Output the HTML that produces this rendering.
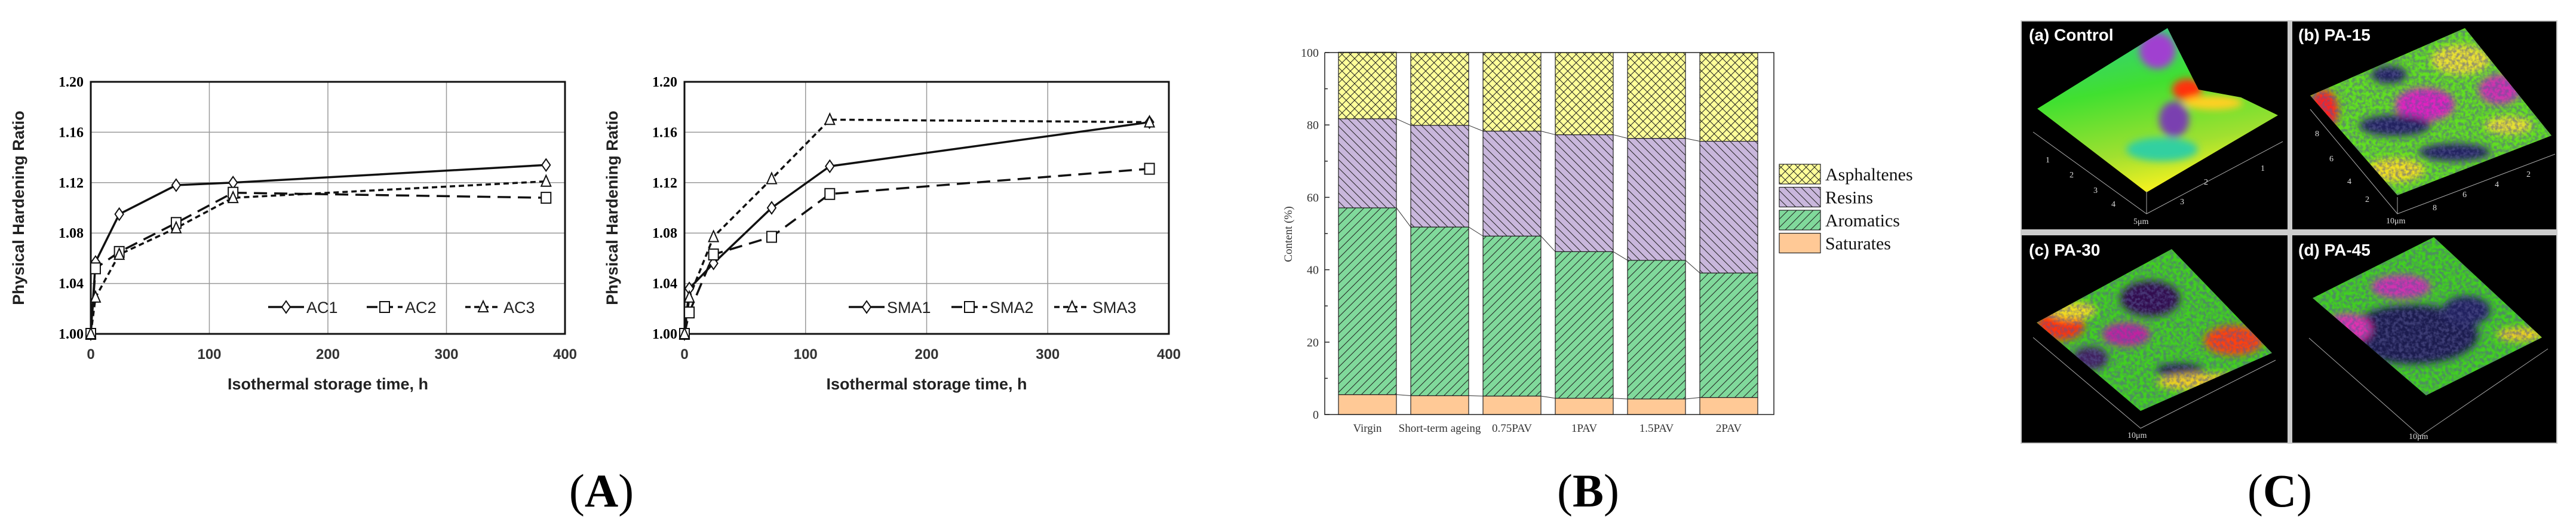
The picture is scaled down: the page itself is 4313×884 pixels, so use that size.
<!DOCTYPE html>
<html><head><meta charset="utf-8"><style>
html,body{margin:0;padding:0;background:#fff;}
svg{display:block;}
</style></head><body>
<svg id="fig" width="4313" height="884" viewBox="0 0 4313 884" xmlns="http://www.w3.org/2000/svg">
<defs>
<pattern id="pAsph" patternUnits="userSpaceOnUse" width="14" height="14"><rect width="14" height="14" fill="#FFFF99"/><path d="M0,0L14,14M14,0L0,14" stroke="#222" stroke-width="1"/></pattern>
<pattern id="pRes" patternUnits="userSpaceOnUse" width="14" height="14"><rect width="14" height="14" fill="#C9B7DC"/><path d="M0,0L14,14M-7,7L7,21M7,-7L21,7" stroke="#222" stroke-width="1"/></pattern>
<pattern id="pAro" patternUnits="userSpaceOnUse" width="14" height="14"><rect width="14" height="14" fill="#80D99B"/><path d="M0,14L14,0M-7,7L7,-7M7,21L21,7" stroke="#222" stroke-width="1"/></pattern>
<clipPath id="ca"><polygon points="3411,182 3629,47 3681,150 3752,163 3814,193 3594,322"/></clipPath>
<clipPath id="cb"><polygon points="3868,160 4127,47 4272,227 4014,327"/></clipPath>
<clipPath id="cc"><polygon points="3410,540 3636,417 3804,591 3584,688"/></clipPath>
<clipPath id="cd"><polygon points="3872,499 4075,397 4256,565 4062,662"/></clipPath>
<linearGradient id="gA" x1="0" y1="0" x2="0.3" y2="1"><stop offset="0" stop-color="#30c8a0"/><stop offset="0.45" stop-color="#40e030"/><stop offset="0.8" stop-color="#a0e030"/><stop offset="1" stop-color="#f0f020"/></linearGradient>
<filter id="blur"><feGaussianBlur stdDeviation="6"/></filter>
<filter id="speck" x="0" y="0" width="1" height="1"><feTurbulence type="fractalNoise" baseFrequency="0.18" numOctaves="2" seed="3"/><feColorMatrix type="matrix" values="0 0 0 0 0.1  0 0 0 0 0.1  0 0 0 0 0.3  0 0 0 -3 1.9"/></filter>
</defs>
<g id="chartA1"></g>
<g id="chartA2"></g>
<g id="chartB"></g>
<g id="panelC">
 <rect x="3383" y="34" width="899" height="709" fill="#ccc"/>
 <rect x="3385" y="36" width="445" height="348" fill="#000"/>
 <rect x="3838" y="36" width="442" height="348" fill="#000"/>
 <rect x="3385" y="394" width="445" height="347" fill="#000"/>
 <rect x="3838" y="394" width="442" height="347" fill="#000"/>
 <g clip-path="url(#ca)"><rect x="3380" y="40" width="450" height="290" fill="url(#gA)"/>
  <g filter="url(#blur)"><ellipse cx="3612" cy="85" rx="30" ry="30" fill="#a040d0"/><ellipse cx="3662" cy="150" rx="25" ry="18" fill="#ff3010"/><ellipse cx="3705" cy="172" rx="50" ry="12" fill="#ffd020"/><ellipse cx="3640" cy="200" rx="25" ry="30" fill="#7a40b0"/><ellipse cx="3620" cy="250" rx="60" ry="20" fill="#30d0a0"/></g></g>
 <g clip-path="url(#cb)"><rect x="3860" y="40" width="420" height="290" fill="#60e020"/>
  <g filter="url(#blur)"><ellipse cx="3890" cy="185" rx="25" ry="35" fill="#ff2020"/><ellipse cx="4060" cy="175" rx="50" ry="28" fill="#e020c0"/><ellipse cx="4010" cy="210" rx="60" ry="18" fill="#202060"/><ellipse cx="4185" cy="150" rx="35" ry="25" fill="#d030b0"/><ellipse cx="4120" cy="100" rx="50" ry="25" fill="#e8e030"/><ellipse cx="4010" cy="285" rx="50" ry="20" fill="#f0e020"/><ellipse cx="4110" cy="255" rx="60" ry="15" fill="#202060"/><ellipse cx="4000" cy="125" rx="30" ry="15" fill="#202060"/><ellipse cx="4200" cy="210" rx="40" ry="15" fill="#e8e030"/></g>
  <rect x="3860" y="40" width="420" height="290" filter="url(#speck)" opacity="0.55"/></g>
 <g clip-path="url(#cc)"><rect x="3400" y="410" width="420" height="290" fill="#40d020"/>
  <g filter="url(#blur)"><ellipse cx="3450" cy="545" rx="40" ry="25" fill="#ff3010"/><ellipse cx="3740" cy="570" rx="50" ry="25" fill="#ff4010"/><ellipse cx="3600" cy="500" rx="50" ry="30" fill="#301050"/><ellipse cx="3560" cy="560" rx="40" ry="20" fill="#c020a0"/><ellipse cx="3650" cy="620" rx="40" ry="12" fill="#202050"/><ellipse cx="3700" cy="640" rx="90" ry="15" fill="#f0d020"/><ellipse cx="3500" cy="600" rx="30" ry="20" fill="#402060"/><ellipse cx="3470" cy="520" rx="40" ry="15" fill="#f0e020"/></g>
  <rect x="3400" y="410" width="420" height="290" filter="url(#speck)" opacity="0.55"/></g>
 <g clip-path="url(#cd)"><rect x="3860" y="390" width="410" height="280" fill="#40d020"/>
  <g filter="url(#blur)"><ellipse cx="4040" cy="560" rx="110" ry="50" fill="#1a1a50"/><ellipse cx="4020" cy="480" rx="50" ry="20" fill="#d030b0"/><ellipse cx="3930" cy="550" rx="40" ry="25" fill="#e030b0"/><ellipse cx="4130" cy="520" rx="40" ry="25" fill="#202060"/><ellipse cx="4220" cy="560" rx="40" ry="12" fill="#f0d020"/></g>
  <rect x="3860" y="390" width="410" height="280" filter="url(#speck)" opacity="0.55"/></g>
 <g fill="#fff" font-family="Liberation Sans, sans-serif" font-weight="bold" font-size="28">
  <text x="3397" y="68">(a) Control</text>
  <text x="3848" y="68">(b) PA-15</text>
  <text x="3397" y="428">(c) PA-30</text>
  <text x="3848" y="428">(d) PA-45</text>
 </g>
 <g stroke="#aaa" stroke-width="1" fill="none">
  <path d="M3404,221L3594,358L3822,237M3594,358V320"/>
  <path d="M3868,183L4014,358L4278,258M4014,358V330"/>
  <path d="M3404,565L3584,717L3810,603"/>
  <path d="M3866,566L4052,730L4266,584"/>
 </g>
 <g fill="#ddd" font-family="Liberation Serif, serif" font-size="14">
  <text x="3572" y="375">5μm</text><text x="3995" y="374">10μm</text><text x="3562" y="733">10μm</text><text x="4033" y="735">10μm</text>
  <text x="3425" y="272">1</text><text x="3465" y="297">2</text><text x="3505" y="323">3</text><text x="3535" y="346">4</text>
  <text x="3650" y="342">3</text><text x="3690" y="309">2</text><text x="3785" y="286">1</text>
  <text x="3876" y="228">8</text><text x="3900" y="270">6</text><text x="3930" y="308">4</text><text x="3960" y="338">2</text>
  <text x="4073" y="352">8</text><text x="4123" y="330">6</text><text x="4177" y="313">4</text><text x="4230" y="296">2</text>
 </g>
</g>
<g font-family="Liberation Serif, serif" font-size="78" fill="#000" text-anchor="middle">
 <text x="1007" y="848">(<tspan font-weight="bold">A</tspan>)</text>
 <text x="2659" y="848">(<tspan font-weight="bold">B</tspan>)</text>
 <text x="3817" y="848">(<tspan font-weight="bold">C</tspan>)</text>
</g>
</svg>
<script>
const NS="http://www.w3.org/2000/svg";
// ---- Panel A data ----
const timesA=[0,4,24,72,120,384];
const ac1=[1.000,1.057,1.095,1.118,1.120,1.134];
const ac2=[1.000,1.052,1.065,1.088,1.112,1.108];
const ac3=[1.000,1.029,1.063,1.084,1.108,1.121];
const sma1=[1.000,1.036,1.056,1.100,1.133,1.168];
const sma2=[1.000,1.017,1.063,1.077,1.111,1.131];
const sma3=[1.000,1.029,1.077,1.123,1.170,1.168];
const yTicksA=[1.00,1.04,1.08,1.12,1.16,1.20];
const xTicksA=[0,100,200,300,400];
const namesAC=["AC1","AC2","AC3"];
const namesSMA=["SMA1","SMA2","SMA3"];
// ---- Panel B data ----
const catsB=["Virgin","Short-term ageing","0.75PAV","1PAV","1.5PAV","2PAV"];
const saturates=[5.5,5.2,5.1,4.5,4.3,4.7];
const aromatics=[51.6,46.6,44.2,40.5,38.3,34.4];
const resins=[24.6,28.1,29.0,32.3,33.7,36.4];
const asphaltenes=[18.4,20.1,21.7,22.7,23.7,24.4];
const yTicksB=[0,20,40,60,80,100];

function mk(tag,attrs,parent){const e=document.createElementNS(NS,tag);for(const k in attrs)e.setAttribute(k,attrs[k]);if(parent)parent.appendChild(e);return e;}

function lineChart(gid,L,R,series,names,legX){
  const g=document.getElementById(gid);
  const T=137,B=559;
  const xs=v=>L+(v-0)/400*(R-L);
  const ys=v=>B-(v-1.0)/0.2*(B-T);
  yTicksA.forEach(t=>{const l=mk('line',{x1:L,x2:R,y1:ys(t),y2:ys(t),stroke:'#999','stroke-width':1.5},g);
    
    const tx=mk('text',{x:L-12,y:ys(t)+8,'text-anchor':'end','font-family':'Liberation Serif, serif','font-weight':'bold','font-size':24},g);
    tx.textContent=t.toFixed(2);});
  xTicksA.forEach(t=>{const l=mk('line',{x1:xs(t),x2:xs(t),y1:T,y2:B,stroke:'#999','stroke-width':1.5},g);
    
    const tx=mk('text',{x:xs(t),y:601,'text-anchor':'middle','font-family':'Liberation Sans, sans-serif','font-weight':'bold','font-size':24,fill:'#333'},g);
    tx.textContent=t;});
  const fr=mk('rect',{x:L,y:T,width:R-L,height:B-T,fill:'none',stroke:'#111','stroke-width':3},g);
  
  const xt=mk('text',{x:(L+R)/2,y:652,'text-anchor':'middle','font-family':'Liberation Sans, sans-serif','font-weight':'bold','font-size':27,fill:'#222'},g);
  xt.textContent='Isothermal storage time, h';
  const yx=L-112, yy=(T+B)/2;
  const yt=mk('text',{x:yx,y:yy,'text-anchor':'middle','font-family':'Liberation Sans, sans-serif','font-weight':'bold','font-size':27,fill:'#222',transform:`rotate(-90 ${yx} ${yy})`},g);
  yt.textContent='Physical Hardening Ratio';
  const dashes=['none','22,12','9,6'];
  function marker(k,x,y,p){
    let m;
    if(k===0) m=mk('polygon',{points:`${x},${y-10} ${x+7},${y} ${x},${y+10} ${x-7},${y}`,fill:'#fff',stroke:'#111','stroke-width':2},p);
    else if(k===1) m=mk('rect',{x:x-8,y:y-9,width:16,height:18,fill:'#fff',stroke:'#111','stroke-width':2},p);
    else m=mk('polygon',{points:`${x},${y-10} ${x+8},${y+8} ${x-8},${y+8}`,fill:'#fff',stroke:'#111','stroke-width':2},p);
    return m;
  }
  series.forEach((s,k)=>{
    const pts=timesA.map((t,i)=>xs(t)+','+ys(s[i])).join(' ');
    const pl=mk('polyline',{points:pts,fill:'none',stroke:'#111','stroke-width':3.5,'stroke-dasharray':dashes[k]},g);
    
  });
  series.forEach((s,k)=>{timesA.forEach((t,i)=>{const m=marker(k,xs(t),ys(s[i]),g);
    });});
  const ly=514; let lx=legX;
  names.forEach((n,k)=>{
    const lg=mk('g',{},g);
    mk('line',{x1:lx,x2:lx+60,y1:ly,y2:ly,stroke:'#111','stroke-width':3.5,'stroke-dasharray':dashes[k]==='none'?'none':(k===1?'18,8':'9,6')},lg);
    marker(k,lx+30,ly,lg);
    const tx=mk('text',{x:lx+64,y:ly+10,'font-family':'Liberation Sans, sans-serif','font-size':27,fill:'#222'},lg);tx.textContent=n;
    lx+= (n.length>3?172:165);
  });
}
lineChart('chartA1',152,946,[ac1,ac2,ac3],namesAC,449);
lineChart('chartA2',1146,1957,[sma1,sma2,sma3],namesSMA,1421);

(function(){
  const g=document.getElementById('chartB');
  const L=2218,R=2970,T=88,B=694;
  const ys=v=>B-v/100*(B-T);
  const x0=2241,step=121,bw=97;
  const layers=[[saturates,'#FFC996','saturates'],[aromatics,'url(#pAro)','aromatics'],[resins,'url(#pRes)','resins'],[asphaltenes,'url(#pAsph)','asphaltenes']];
  const tops=catsB.map(()=>0);
  const tops2=[];
  layers.forEach(([arr,fill,name])=>{
    const row=[];
    catsB.forEach((c,i)=>{const y0=tops[i],y1=y0+arr[i];
      const r=mk('rect',{x:x0+i*step,y:ys(y1),width:bw,height:ys(y0)-ys(y1),fill:fill,stroke:'#222','stroke-width':1.2},g);
      
      tops[i]=y1;row.push(y1);});
    tops2.push(row);
  });
  tops2.slice(0,3).forEach(row=>{for(let i=0;i<row.length-1;i++){
    const l=mk('line',{x1:x0+i*step+bw,y1:ys(row[i]),x2:x0+(i+1)*step,y2:ys(row[i+1]),stroke:'#333','stroke-width':1},g);
    }});
  const ax=mk('path',{d:`M${L},${T}V${B}H${R}V${T}H${L}`,fill:'none',stroke:'#222','stroke-width':1.5},g);
  
  for(let v=0;v<=100;v+=10){mk('line',{x1:L,x2:L+(v%20===0?8:5),y1:ys(v),y2:ys(v),stroke:'#222','stroke-width':1.5},g);}
  yTicksB.forEach(v=>{const t=mk('text',{x:L-10,y:ys(v)+7,'text-anchor':'end','font-family':'Liberation Serif, serif','font-size':20,fill:'#333'},g);
    t.textContent=v;});
  catsB.forEach((c,i)=>{const t=mk('text',{x:x0+i*step+bw/2,y:723,'text-anchor':'middle','font-family':'Liberation Serif, serif','font-size':19,fill:'#333'},g);
    t.textContent=c;});
  const yt=mk('text',{x:2163,y:392,'text-anchor':'middle','font-family':'Liberation Serif, serif','font-size':19,fill:'#333',transform:'rotate(-90 2163 392)'},g);
  yt.textContent='Content (%)';
  const leg=[['Asphaltenes','url(#pAsph)'],['Resins','url(#pRes)'],['Aromatics','url(#pAro)'],['Saturates','#FFC996']];
  leg.forEach(([n,f],k)=>{const y=275+k*38.5;
    const lg=mk('g',{},g);
    mk('rect',{x:2979,y:y,width:69,height:33,fill:f,stroke:'#222','stroke-width':1.2},lg);
    const t=mk('text',{x:3056,y:y+27,'font-family':'Liberation Serif, serif','font-size':30,fill:'#111'},lg);t.textContent=n;});
})();
</script>
</body></html>
